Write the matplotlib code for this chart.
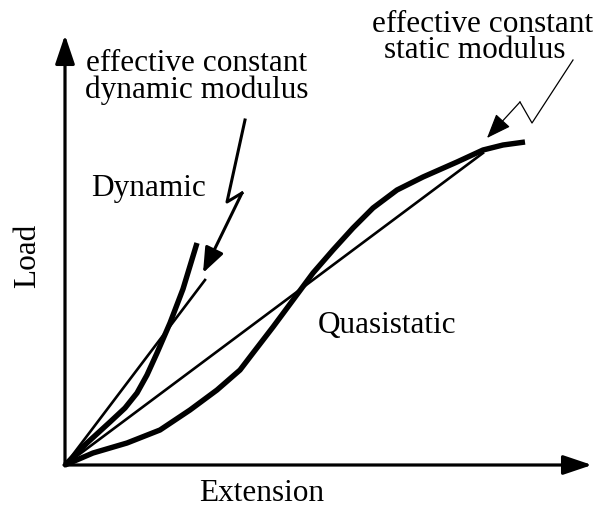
import matplotlib.pyplot as plt
import numpy as np

plt.rcParams['font.family'] = ['Liberation Serif', 'DejaVu Serif']

# schematic curves (extension, load) in arbitrary units, origin at 0
quasi_ext = [0, 28, 62, 95, 125, 152, 175, 188, 208, 228, 248, 268, 288,
             308, 332, 358, 392, 418, 438, 460]
quasi_load = [0, 12, 22, 35, 55, 75, 95, 112, 138, 165, 192, 215, 237,
              257, 275, 288, 303, 315, 320, 323]
quasi_line_ext = [0, 418]
quasi_line_load = [0, 312]

dyn_ext = [0, 22, 45, 60, 72, 82, 92, 105, 118, 132]
dyn_load = [0, 22, 43, 57, 72, 90, 112, 142, 176, 222]
dyn_line_ext = [0, 140]
dyn_line_load = [0, 185]

# annotation pointer paths (last point is arrow tip)
dyn_ptr_x = [180, 162, 177, 138]
dyn_ptr_y = [345, 263, 272, 192]
stat_ptr_x = [508, 467, 455, 422]
stat_ptr_y = [405, 342, 363, 327]

fig = plt.figure(figsize=(6.05, 5.08), dpi=100)
ax = fig.add_axes([0, 0, 1, 1])
ax.set_xlim(-65, 540)
ax.set_ylim(-43, 465)
ax.axis('off')

axis_arrow = dict(arrowstyle='-|>,head_length=0.8,head_width=0.27', lw=2.3,
                  color='k', mutation_scale=22, shrinkA=0, shrinkB=0)
ax.annotate("", xy=(0, 430), xytext=(0, -1), arrowprops=axis_arrow)
ax.annotate("", xy=(527, 0), xytext=(-1, 0), arrowprops=axis_arrow)

ax.plot(quasi_ext, quasi_load, color='k', lw=3.9, solid_capstyle='butt',
        solid_joinstyle='round')
ax.plot(quasi_line_ext, quasi_line_load, color='k', lw=1.9)
ax.plot(dyn_ext, dyn_load, color='k', lw=3.9, solid_capstyle='butt',
        solid_joinstyle='round')
ax.plot(dyn_line_ext, dyn_line_load, color='k', lw=1.9)

# zigzag pointers
ptr_head = '-|>,head_length=0.9,head_width=0.35'
ax.plot(dyn_ptr_x[:-1], dyn_ptr_y[:-1], color='k', lw=2.2)
ax.annotate("", xy=(dyn_ptr_x[-1], dyn_ptr_y[-1]),
            xytext=(dyn_ptr_x[-2], dyn_ptr_y[-2]),
            arrowprops=dict(arrowstyle=ptr_head, lw=2.2, color='k',
                            mutation_scale=17, shrinkA=0, shrinkB=0))
ax.plot(stat_ptr_x[:-1], stat_ptr_y[:-1], color='k', lw=0.9)
ax.annotate("", xy=(stat_ptr_x[-1], stat_ptr_y[-1]),
            xytext=(stat_ptr_x[-2], stat_ptr_y[-2]),
            arrowprops=dict(arrowstyle=ptr_head, lw=0.9, color='k',
                            mutation_scale=17, shrinkA=0, shrinkB=0))

# multi-line labels: y is the baseline of the last line
fs = 22.5
ax.text(131.5, 367, "effective constant\ndynamic modulus", ha='center',
        va='baseline', multialignment='center', fontsize=fs, linespacing=0.88)
ax.text(418, 407, "effective constant\nstatic modulus  ", ha='center',
        va='baseline', multialignment='center', fontsize=fs, linespacing=0.88)
ax.text(84, 269, "Dynamic", ha='center', va='baseline', fontsize=fs)
ax.text(322.5, 132, "Quasistatic", ha='center', va='baseline', fontsize=fs)
ax.text(196.5, -36, "Extension", ha='center', va='baseline', fontsize=fs)
ax.text(-37, 209, "Load", ha='center', va='center', fontsize=fs, rotation=90)

fig.savefig("out.png", dpi=100)
